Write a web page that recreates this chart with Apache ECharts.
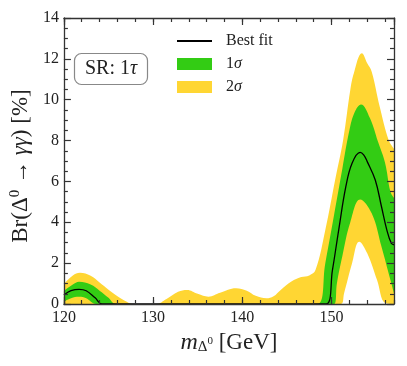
<!DOCTYPE html>
<html><head><meta charset="utf-8">
<script src="https://cdn.jsdelivr.net/npm/echarts@6/dist/echarts.min.js"></script>
<style>html,body{margin:0;padding:0;background:#fff}#c{width:407px;height:366px}</style>
</head><body><div id="c"></div>
<script>
// ---- data ----
const xTicks = [120, 130, 140, 150];
const yTicks = [0, 2, 4, 6, 8, 10, 12, 14];

const mUpper2 = [120,121,121.8,123,124,125,126,127,127.7,130.3,131.5,132.8,133.8,135,136.2,137.5,139.3,140.5,141.5,142.7,143.5,144.3,145.5,146.6,147.5,148.2,149.3,150.4,151.3,152.1,152.5,153.4,154,154.5,155.4,156.4,157];
const upper2  = [0.98,1.4,1.53,1.38,1.05,0.7,0.38,0.12,0,0,0.25,0.6,0.69,0.5,0.36,0.55,0.77,0.65,0.4,0.28,0.38,0.69,1.1,1.32,1.4,1.66,3.62,6.07,8.03,10.47,11.3,12.27,11.78,11.37,9.66,8.03,7.6];

const mUpper1 = [120,121,121.7,123,124,125,125.8,135,148.4,149.3,150.3,151.2,152,152.6,153.3,154.3,155.2,156,156.6,157];
const upper1  = [0.64,0.95,1.09,0.95,0.65,0.3,0,0,0,2.0,4.4,6.6,8.5,9.4,9.77,9.1,7.95,6.9,5.5,5.2];

const mBest = [120,120.8,121.7,122.5,123.5,124.3,135,149.4,150.1,150.8,151.6,152.3,153.2,153.6,154,154.9,155.6,156.2,156.7,157];
const best  = [0.44,0.65,0.72,0.65,0.3,0,0,0,1.66,3.62,5.74,6.89,7.42,7.3,6.97,6.07,4.76,3.62,2.97,2.9];

const mLower1 = [120,120.8,121.7,122.5,123.6,135,150.3,150.6,151.2,152.1,153.2,154.5,155.6,156.6,157];
const lower1  = [0.11,0.28,0.35,0.28,0,0,0,1.0,2.32,4.0,5.12,4.44,2.8,1.17,0.52];

const mLower2 = [120,151,151.4,152.3,153.1,154,155.1,156,157];
const lower2  = [0,0,0.52,1.99,3.05,2.48,1.17,0.05,0];

const legendNames = ['Best fit', '1σ', '2σ'];

// ---- chart ----
const zip = (xs, ys) => xs.map((x, i) => [x, ys[i]]);
const FONT = '"Liberation Serif", "DejaVu Serif", serif';
const YEL = '#ffd633', GRN = '#33cc14', AX = '#333', TXT = '#222';
const xMin = 120, xMax = 157, yMin = 0, yMax = 14;

function xAx(pos, interval, len, labels, line) {
  return {
    type: 'value', position: pos, min: xMin, max: xMax, interval: interval, z: 10,
    axisLine: { show: line, onZero: false, lineStyle: { color: AX, width: 1.3 } },
    axisTick: { show: true, inside: true, length: len, lineStyle: { color: AX, width: 1.2 } },
    axisLabel: { show: labels, showMaxLabel: false, margin: 6, color: TXT, fontFamily: FONT, fontSize: 16,
      formatter: v => xTicks.indexOf(v) >= 0 ? String(v) : '' },
    splitLine: { show: false }
  };
}
function yAx(pos, labels) {
  return {
    type: 'value', position: pos, min: yMin, max: yMax, interval: 2, z: 10,
    axisLine: { show: true, onZero: false, lineStyle: { color: AX, width: 1.3 } },
    axisTick: { show: true, inside: true, length: 7, lineStyle: { color: AX, width: 1.2 } },
    minorTick: { show: true, splitNumber: 4, length: 4, lineStyle: { color: AX, width: 1.2 } },
    axisLabel: { show: labels, margin: 5, color: TXT, fontFamily: FONT, fontSize: 16,
      formatter: v => yTicks.indexOf(v) >= 0 ? String(v) : '' },
    splitLine: { show: false }
  };
}

const xs = [xAx('bottom', 10, 7, true, true), xAx('bottom', 2, 4, false, false),
            xAx('top', 10, 7, false, true), xAx('top', 2, 4, false, false)];
xs[0].name = '{i|m}{sub|Δ}{sup|0}{n| [GeV]}';
xs[0].nameLocation = 'middle';
xs[0].nameGap = 24;
xs[0].nameTextStyle = { fontFamily: FONT, color: TXT, fontSize: 23,
  rich: { i: { fontFamily: FONT, fontStyle: 'italic', fontSize: 24, color: TXT },
          sub: { fontFamily: FONT, fontSize: 15, color: TXT, padding: [9, 0, 0, 0] },
          sup: { fontFamily: FONT, fontSize: 11, color: TXT, padding: [0, 0, 4, 0] },
          n: { fontFamily: FONT, fontSize: 23, color: TXT } } };

const ys = [yAx('left', true), yAx('right', false)];
ys[0].name = '{n|Br(Δ}{sup|0}{n| → }{i|γγ}{n|) [%]}';
ys[0].nameLocation = 'middle';
ys[0].nameGap = 25;
ys[0].nameTextStyle = { fontFamily: FONT, color: TXT, fontSize: 23, padding: [0, 10, 0, 0],
  rich: { n: { fontFamily: FONT, fontSize: 23, color: TXT },
          i: { fontFamily: FONT, fontStyle: 'italic', fontSize: 23, color: TXT },
          sup: { fontFamily: FONT, fontSize: 15, color: TXT, padding: [0, 0, 10, 0] } } };

function area(name, data, color) {
  return { name: name, type: 'line', data: data, smooth: 0.4, symbol: 'none',
    xAxisIndex: 0, yAxisIndex: 0, lineStyle: { width: 0, color: color }, itemStyle: { color: color },
    areaStyle: { color: color, opacity: 1 }, z: 2, silent: true };
}

const chart = echarts.init(document.getElementById('c'), null, { renderer: 'canvas' });
chart.setOption({
  animation: false,
  grid: { left: 61, right: 13, top: 18, bottom: 62 },
  xAxis: xs,
  yAxis: ys,
  legend: {
    orient: 'vertical', left: 176, top: 33, padding: 0, itemGap: 7,
    itemWidth: 35, itemHeight: 12, selectedMode: false,
    data: [{ name: legendNames[0], itemStyle: { opacity: 0 } },
           { name: legendNames[1], icon: 'rect' }, { name: legendNames[2], icon: 'rect' }],
    textStyle: { fontFamily: FONT, fontSize: 16, color: TXT, padding: [0, 0, 0, 9],
      rich: { n: { fontFamily: FONT, fontSize: 16, color: TXT }, i: { fontFamily: FONT, fontSize: 16, fontStyle: 'italic', color: TXT } } },
    formatter: n => n.indexOf('σ') >= 0 ? '{n|' + n.replace('σ', '') + '}{i|σ}' : n
  },
  title: {
    text: '{n|SR: 1}{i|τ}', left: 74, top: 53, padding: [6, 11, 6, 11],
    borderColor: '#888', borderWidth: 1.2, borderRadius: 7, backgroundColor: '#fff',
    textStyle: { fontFamily: FONT, fontSize: 20, fontWeight: 'normal', color: TXT,
      rich: { n: { fontFamily: FONT, fontSize: 20, color: TXT }, i: { fontFamily: FONT, fontSize: 20, fontStyle: 'italic', color: TXT } } }
  },
  series: [
    area(legendNames[2], zip(mUpper2, upper2), YEL),
    area(legendNames[1], zip(mUpper1, upper1), GRN),
    area('lower1σ', zip(mLower1, lower1), YEL),
    area('lower2σ', zip(mLower2, lower2), '#ffffff'),
    { name: legendNames[0], type: 'line', data: zip(mBest, best), smooth: 0.4, symbol: 'none',
      lineStyle: { color: '#000', width: 1.3 }, itemStyle: { color: '#000' }, z: 3, silent: true }
  ]
});
</script></body></html>
